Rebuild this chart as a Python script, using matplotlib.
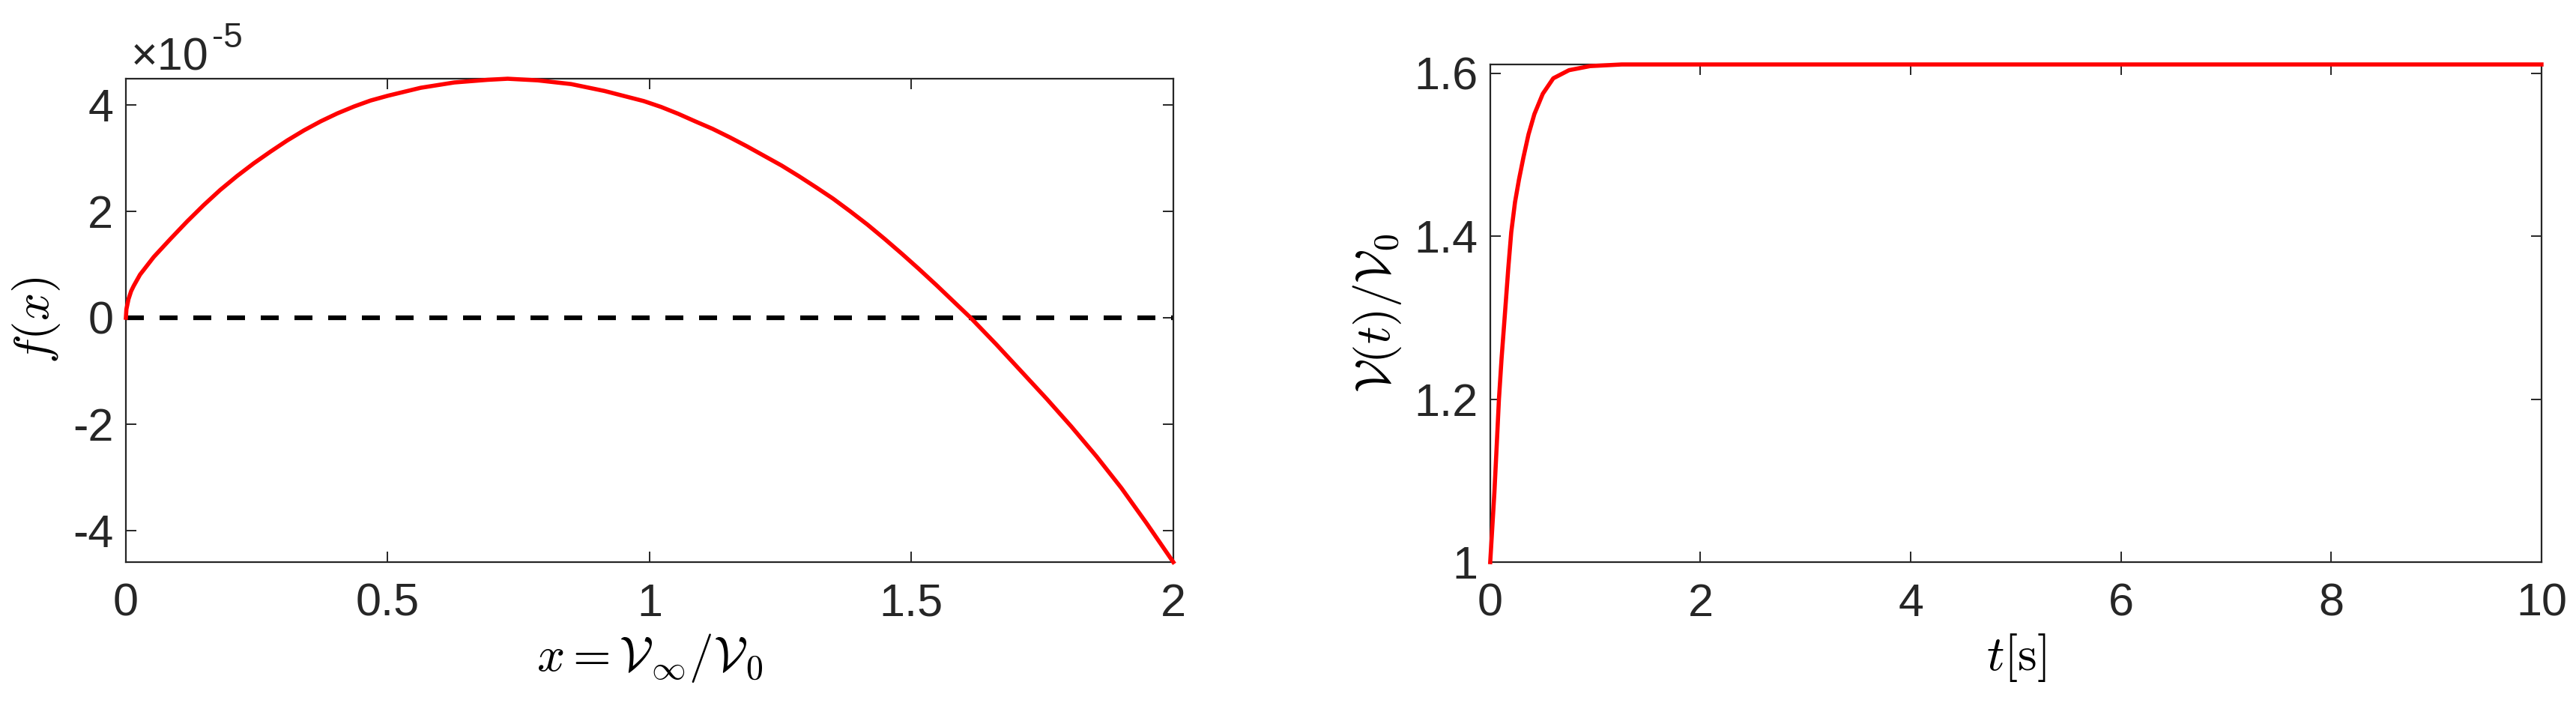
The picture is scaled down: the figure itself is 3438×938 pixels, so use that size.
import matplotlib
matplotlib.use('Agg')
import matplotlib.pyplot as plt
from matplotlib.ticker import FuncFormatter

plt.rcParams['font.family'] = ['Liberation Sans', 'DejaVu Sans']
plt.rcParams['mathtext.fontset'] = 'cm'
plt.rcParams['axes.unicode_minus'] = False

# left panel: f(x), values in units of 1e-5
x_ratio = [0, 0.001, 0.005, 0.01, 0.015, 0.027, 0.053, 0.085, 0.117, 0.149,
           0.18, 0.212, 0.244, 0.276, 0.308, 0.34, 0.372, 0.404, 0.436, 0.467,
           0.5, 0.563, 0.627, 0.691, 0.729, 0.786, 0.85, 0.914, 0.989, 1.022,
           1.055, 1.087, 1.12, 1.153, 1.186, 1.219, 1.252, 1.285, 1.318, 1.35,
           1.383, 1.416, 1.449, 1.482, 1.515, 1.548, 1.581, 1.613, 1.662, 1.71,
           1.758, 1.805, 1.853, 1.901, 1.949, 2.0]
f_vals = [0, 0.16, 0.35, 0.50, 0.60, 0.81, 1.14, 1.48, 1.81, 2.12,
          2.40, 2.66, 2.90, 3.12, 3.33, 3.52, 3.69, 3.84, 3.97, 4.08,
          4.17, 4.32, 4.42, 4.47, 4.49, 4.46, 4.39, 4.26, 4.07, 3.96,
          3.83, 3.69, 3.55, 3.39, 3.22, 3.04, 2.86, 2.66, 2.45, 2.24,
          2.00, 1.75, 1.48, 1.20, 0.91, 0.61, 0.30, 0.0, -0.50, -1.01,
          -1.52, -2.04, -2.60, -3.20, -3.86, -4.59]
f_scale = 1e-5

# right panel: V(t)/V0
t_vals = [0, 0.04, 0.061, 0.083, 0.108, 0.14, 0.172, 0.2, 0.236, 0.274,
          0.316, 0.364, 0.42, 0.5, 0.6, 0.75, 0.95, 1.25, 2.0, 10.0]
v_ratio = [1.0, 1.086, 1.141, 1.2, 1.25, 1.305, 1.361, 1.405, 1.442, 1.47,
           1.497, 1.525, 1.55, 1.575, 1.594, 1.604, 1.609, 1.611, 1.611, 1.611]

x_ticks = [0, 0.5, 1, 1.5, 2]
f_ticks = [-4, -2, 0, 2, 4]
t_ticks = [0, 2, 4, 6, 8, 10]
v_ticks = [1, 1.2, 1.4, 1.6]

dark = '#262626'
tick_fs = 44
label_fs = 47

fig = plt.figure(figsize=(34.38, 9.38), dpi=100)
ax1 = fig.add_axes([0.04887, 0.2004, 0.4066, 0.6876])
ax2 = fig.add_axes([0.5785, 0.2004, 0.4081, 0.7079])

f_real = [v * f_scale for v in f_vals]
ax1.plot([x_ratio[0], x_ratio[-1]], [0, 0], color='k', lw=4.5,
         dashes=(3.84, 3.36), clip_on=False, zorder=2)
ax1.plot(x_ratio, f_real, color='#ff0000', lw=4.0, clip_on=False, zorder=3)
ax1.set_xlim(0, 2)
ax1.set_ylim(min(f_real), max(f_real))
ax1.set_xticks(x_ticks)
ax1.set_yticks([v * f_scale for v in f_ticks])
ax1.xaxis.set_major_formatter(FuncFormatter(lambda v, p: '{:g}'.format(v)))
ax1.yaxis.set_major_formatter(FuncFormatter(lambda v, p: '{:g}'.format(round(v / f_scale, 6))))
ax1.set_xlabel(r'$x=\mathcal{V}_\infty/\mathcal{V}_0$', fontsize=label_fs, labelpad=6)
ax1.set_ylabel(r'$f(x)$', fontsize=label_fs, labelpad=10)

# MATLAB style exponent above the axis
fig.text(175 / 3438, 1 - 93 / 938, '\u00d710', fontsize=tick_fs, color=dark,
         ha='left', va='baseline')
fig.text(283 / 3438, 1 - 63 / 938, '-5', fontsize=33, color=dark,
         ha='left', va='baseline')

ax2.plot(t_vals, v_ratio, color='#ff0000', lw=4.0, clip_on=False, zorder=3)
ax2.set_xlim(0, 10)
ax2.set_ylim(1, max(v_ratio))
ax2.set_xticks(t_ticks)
ax2.set_yticks(v_ticks)
ax2.xaxis.set_major_formatter(FuncFormatter(lambda v, p: '{:g}'.format(v)))
ax2.yaxis.set_major_formatter(FuncFormatter(lambda v, p: '{:g}'.format(v)))
ax2.set_xlabel(r'$t[\mathrm{s}]$', fontsize=label_fs, labelpad=6)
ax2.set_ylabel(r'$\mathcal{V}(t)/\mathcal{V}_0$', fontsize=label_fs, labelpad=10)

for ax in (ax1, ax2):
    for s in ax.spines.values():
        s.set_linewidth(1.6)
        s.set_color(dark)
    ax.tick_params(direction='in', length=10, width=1.4, colors=dark,
                   labelsize=tick_fs, top=True, right=True)
    ax.tick_params(axis='x', pad=20)
    ax.tick_params(axis='y', pad=12)

fig.savefig('out.png', dpi=100)
